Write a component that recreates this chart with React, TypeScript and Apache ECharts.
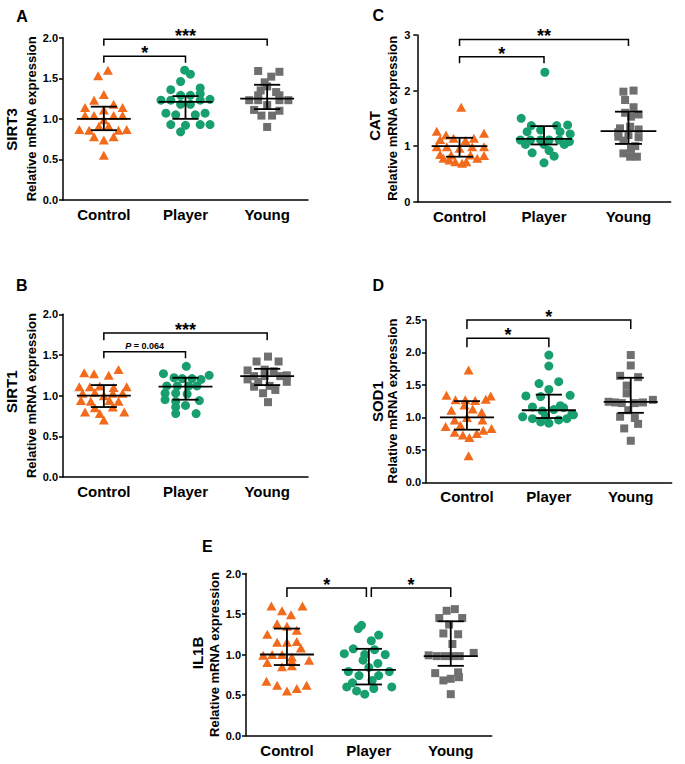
import React, { useEffect, useRef } from 'react';
import * as echarts from 'echarts';

const CATEGORIES = ['Control', 'Player', 'Young'];

// Each point: [horizontal jitter within its group, relative mRNA expression]
const SIRT3_CONTROL = [[0.05,1.60],[-0.07,1.53],[0,1.30],[-0.12,1.23],[0.12,1.18],[0.23,1.14],[-0.23,1.14],[0,1.11],[-0.23,1.04],[-0.12,1.04],[0.12,1.04],[0.23,1.04],[0,0.99],[-0.06,0.91],[0.06,0.91],[-0.30,0.87],[-0.18,0.86],[0.18,0.86],[0.28,0.87],[-0.12,0.78],[0.12,0.78],[0,0.74],[0,0.55]];
const SIRT3_PLAYER = [[-0.01,1.60],[0.06,1.55],[-0.06,1.46],[-0.18,1.36],[0.18,1.38],[-0.06,1.29],[0.06,1.29],[0.18,1.31],[-0.30,1.23],[-0.18,1.23],[0.18,1.23],[0.30,1.24],[-0.06,1.18],[0.06,1.18],[-0.24,1.07],[-0.12,1.05],[0.24,1.07],[0.12,1.05],[-0.18,0.93],[0.18,0.93],[0.30,0.93],[0.0,0.92],[-0.06,0.84]];
const SIRT3_YOUNG = [[-0.11,1.59],[0.15,1.58],[0.05,1.52],[-0.03,1.45],[0.0,1.40],[-0.11,1.29],[0.15,1.29],[-0.22,1.23],[-0.11,1.23],[0.15,1.23],[0.26,1.23],[0.0,1.17],[-0.16,1.11],[0.15,1.10],[-0.07,1.04],[0.06,1.04],[0.0,0.90],[0.11,1.33],[-0.08,1.35]];
const SIRT3_STATS = [[1.00,0.86,1.15],[1.21,1.00,1.28],[1.25,1.12,1.42]]; // median, q1, q3

const SIRT1_CONTROL = [[0.18,1.32],[-0.24,1.28],[-0.12,1.27],[0.06,1.25],[-0.30,1.11],[-0.17,1.11],[-0.05,1.12],[0.28,1.11],[0.12,1.10],[-0.26,1.03],[-0.11,1.04],[0.11,1.03],[0.23,1.03],[0,1.0],[-0.28,0.94],[-0.16,0.93],[0.07,0.94],[0.18,0.93],[-0.23,0.80],[-0.11,0.85],[0.11,0.86],[0.25,0.80],[0,0.70],[-0.05,0.78]];
const SIRT1_PLAYER = [[0.01,1.36],[-0.27,1.27],[0.29,1.25],[-0.14,1.22],[-0.04,1.21],[0.08,1.21],[0.19,1.20],[-0.23,1.12],[-0.10,1.12],[0.04,1.12],[0.14,1.12],[-0.25,1.03],[-0.12,1.03],[0.02,1.02],[-0.25,0.95],[-0.12,0.93],[0.17,0.94],[-0.12,0.86],[0.0,0.88],[-0.12,0.78],[0.13,0.78]];
const SIRT1_YOUNG = [[0.01,1.48],[-0.13,1.42],[0.14,1.42],[-0.24,1.31],[-0.03,1.32],[0.08,1.30],[0.24,1.25],[-0.16,1.24],[-0.03,1.24],[0.16,1.24],[-0.11,1.17],[0.24,1.17],[-0.16,1.11],[0.03,1.12],[0.10,1.07],[-0.05,1.03],[0.01,0.92],[-0.24,1.20]];
const SIRT1_STATS = [[1.00,0.86,1.13],[1.11,0.95,1.22],[1.24,1.13,1.33]];

const CAT_CONTROL = [[0.02,1.70],[-0.27,1.27],[-0.16,1.20],[0.29,1.23],[-0.23,1.12],[-0.07,1.14],[0.17,1.14],[0.07,1.10],[-0.27,0.99],[-0.15,0.99],[0.15,0.99],[0.29,0.99],[0,0.96],[-0.23,0.85],[-0.10,0.84],[0.13,0.84],[0.29,0.83],[-0.19,0.78],[0.21,0.78],[-0.05,0.72],[0.03,0.69],[0.08,0.72],[-0.12,0.75]];
const CAT_PLAYER = [[0.01,2.33],[-0.27,1.50],[-0.15,1.37],[0.15,1.37],[0.28,1.38],[-0.20,1.26],[-0.04,1.29],[0.19,1.26],[0.31,1.22],[-0.28,1.11],[-0.16,1.11],[-0.04,1.11],[0.06,1.11],[0.18,1.11],[0.30,1.08],[-0.22,1.03],[0.0,1.03],[0.24,1.03],[-0.14,0.88],[0.06,0.92],[0.12,0.82],[0.0,0.70]];
const CAT_YOUNG = [[-0.06,1.98],[0.06,2.00],[-0.04,1.83],[0.06,1.70],[-0.04,1.60],[0.12,1.57],[0.03,1.53],[-0.10,1.32],[0.02,1.35],[0.12,1.30],[-0.12,1.17],[0.0,1.20],[0.12,1.16],[-0.06,1.10],[0.08,1.00],[0.03,0.95],[-0.06,0.87],[0.02,0.81],[0.10,0.81],[-0.12,1.25]];
const CAT_STATS = [[1.00,0.81,1.15],[1.13,1.03,1.36],[1.27,1.04,1.62]];

const SOD1_CONTROL = [[0.02,1.73],[-0.25,1.34],[0.29,1.33],[-0.14,1.27],[-0.02,1.27],[0.10,1.26],[0.23,1.28],[-0.03,1.19],[0.07,1.13],[-0.19,1.11],[0.18,1.08],[-0.15,0.96],[0.19,0.96],[0.0,1.0],[-0.26,0.86],[-0.08,0.88],[0.30,0.83],[0.20,0.80],[-0.15,0.77],[-0.05,0.73],[0.03,0.69],[0.12,0.75],[0.02,0.41]];
const SOD1_PLAYER = [[0,1.96],[0,1.79],[-0.12,1.52],[0.12,1.55],[0,1.43],[-0.28,1.33],[-0.10,1.32],[0.26,1.34],[-0.20,1.16],[0.14,1.18],[-0.08,1.10],[0.06,1.12],[0.28,1.05],[-0.32,1.01],[-0.20,0.98],[-0.10,0.93],[0,0.91],[0.12,0.96],[0.22,0.98],[0.30,1.04],[-0.04,1.02],[0.18,1.15]];
const SOD1_YOUNG = [[0,1.96],[0,1.80],[-0.13,1.64],[0.09,1.62],[-0.05,1.49],[-0.05,1.37],[-0.27,1.24],[-0.19,1.23],[-0.11,1.22],[0.05,1.22],[0.15,1.23],[0.27,1.27],[-0.03,1.11],[-0.13,1.01],[0.05,0.99],[0.09,0.90],[-0.08,0.83],[0,0.64]];
const SOD1_STATS = [[1.00,0.81,1.25],[1.11,0.99,1.35],[1.24,1.07,1.61]];

const IL1B_CONTROL = [[-0.19,1.60],[0.19,1.60],[-0.06,1.54],[0.05,1.49],[-0.12,1.38],[0.0,1.35],[0.12,1.30],[-0.24,1.25],[-0.12,1.15],[0.0,1.15],[0.12,1.16],[0.17,1.08],[-0.29,0.99],[-0.18,1.00],[-0.06,1.00],[0.06,0.97],[-0.24,0.90],[0.06,0.92],[0.27,0.93],[-0.06,0.85],[0.06,0.86],[-0.25,0.67],[-0.12,0.62],[0,0.55],[0.12,0.58],[0.24,0.62]];
const IL1B_PLAYER = [[-0.09,1.36],[-0.13,1.32],[0.12,1.24],[0.03,1.17],[-0.19,1.07],[0.07,1.06],[-0.30,1.01],[-0.05,1.0],[0.20,1.0],[-0.07,0.93],[0.11,0.89],[-0.25,0.79],[0.0,0.84],[0.25,0.79],[-0.12,0.74],[0.12,0.74],[-0.20,0.65],[0.04,0.68],[-0.27,0.60],[-0.15,0.55],[-0.05,0.51],[0.06,0.58],[0.28,0.60]];
const IL1B_YOUNG = [[0.05,1.56],[-0.05,1.54],[-0.14,1.45],[0.14,1.45],[-0.02,1.37],[-0.09,1.26],[0.09,1.25],[0.02,1.13],[-0.27,0.99],[-0.17,0.98],[-0.07,0.98],[0.02,0.98],[0.11,0.98],[0.28,1.02],[-0.19,0.77],[0.09,0.78],[-0.09,0.68],[0.0,0.70],[0.10,0.72],[0.0,0.51]];
const IL1B_STATS = [[1.00,0.87,1.32],[0.81,0.63,1.07],[0.98,0.86,1.41]];

// significance brackets: from group, to group, bracket height, drop, label
const SIRT3_BRACKETS = [{ from: 0, to: 1, y: 1.77, drop: 0.08, label: '*' }, { from: 0, to: 2, y: 1.98, drop: 0.08, label: '***' }];
const SIRT1_BRACKETS = [{ from: 0, to: 1, y: 1.54, drop: 0.08, label: 'P = 0.064' }, { from: 0, to: 2, y: 1.77, drop: 0.09, label: '***' }];
const CAT_BRACKETS = [{ from: 0, to: 1, y: 2.61, drop: 0.12, label: '*' }, { from: 0, to: 2, y: 2.92, drop: 0.12, label: '**' }];
const SOD1_BRACKETS = [{ from: 0, to: 1, y: 2.22, drop: 0.14, label: '*' }, { from: 0, to: 2, y: 2.50, drop: 0.14, label: '*' }];
const IL1B_BRACKETS = [{ from: 0, to: 0.97, y: 1.82, drop: 0.11, label: '*' }, { from: 1.03, to: 2, y: 1.82, drop: 0.11, label: '*' }];

const COLORS = ['#F26A1B', '#17A06E', '#6F6F6F'];
const SYMBOLS = ['triangle', 'circle', 'rect'];
const SYMBOL_SIZES: any[] = [[10, 9], 9, 8];
const FONT = 'Liberation Sans, Arial, Helvetica, sans-serif';

const PANELS = [
  { letter: 'A', gene: 'SIRT3', groups: [SIRT3_CONTROL, SIRT3_PLAYER, SIRT3_YOUNG], stats: SIRT3_STATS, brackets: SIRT3_BRACKETS,
    grid: { left: 63, top: 37.7, width: 245, height: 162.3 }, yMax: 2, interval: 0.5, dec: 1, labelMargin: 5,
    letterPos: [22, 16], genePos: [11.7, 129.5], relPos: [31.5, 118.8] },
  { letter: 'B', gene: 'SIRT1', groups: [SIRT1_CONTROL, SIRT1_PLAYER, SIRT1_YOUNG], stats: SIRT1_STATS, brackets: SIRT1_BRACKETS,
    grid: { left: 63, top: 314.3, width: 245, height: 162.7 }, yMax: 2, interval: 0.5, dec: 1, labelMargin: 5,
    letterPos: [21.7, 285], genePos: [11.7, 391.7], relPos: [31.5, 395.6] },
  { letter: 'C', gene: 'CAT', groups: [CAT_CONTROL, CAT_PLAYER, CAT_YOUNG], stats: CAT_STATS, brackets: CAT_BRACKETS,
    grid: { left: 417.3, top: 35, width: 253.4, height: 166.7 }, yMax: 3, interval: 1, dec: 0, labelMargin: 7,
    letterPos: [378.3, 15], genePos: [374, 126], relPos: [392, 118.3] },
  { letter: 'D', gene: 'SOD1', groups: [SOD1_CONTROL, SOD1_PLAYER, SOD1_YOUNG], stats: SOD1_STATS, brackets: SOD1_BRACKETS,
    grid: { left: 426, top: 320, width: 245.7, height: 162.3 }, yMax: 2.5, interval: 0.5, dec: 1, labelMargin: 5,
    letterPos: [378.3, 285], genePos: [377.5, 401.7], relPos: [392.5, 401] },
  { letter: 'E', gene: 'IL1B', groups: [IL1B_CONTROL, IL1B_PLAYER, IL1B_YOUNG], stats: IL1B_STATS, brackets: IL1B_BRACKETS,
    grid: { left: 246, top: 573.5, width: 245.7, height: 162 }, yMax: 2, interval: 0.5, dec: 1, labelMargin: 5,
    letterPos: [207.3, 546.7], genePos: [197.5, 653], relPos: [214, 654.5] },
];

function textStyle(text: string, size: number, extra: any = {}) {
  return {
    text, fill: '#000', fontSize: size, fontWeight: 'bold', fontFamily: FONT,
    align: 'center', verticalAlign: 'middle', textAlign: 'center', textVerticalAlign: 'middle', ...extra,
  };
}

function buildOption() {
  const grid: any[] = [];
  const xAxis: any[] = [];
  const yAxis: any[] = [];
  const series: any[] = [];
  const graphic: any[] = [];

  PANELS.forEach((p, g) => {
    grid.push({ ...p.grid, outerBoundsMode: 'none', containLabel: false });
    xAxis.push({
      gridIndex: g, type: 'category', data: CATEGORIES,
      axisLine: { lineStyle: { color: '#000', width: 1.5 } },
      axisTick: { alignWithLabel: true, length: 5, lineStyle: { color: '#000', width: 1.5 } },
      axisLabel: { color: '#000', fontSize: 15, fontWeight: 'bold', fontFamily: FONT, margin: 7, interval: 0 },
    });
    xAxis.push({ gridIndex: g, type: 'value', min: 0, max: 3, show: false });
    yAxis.push({
      gridIndex: g, type: 'value', min: 0, max: p.yMax, interval: p.interval,
      axisLine: { show: true, lineStyle: { color: '#000', width: 1.5 } },
      axisTick: { show: true, length: 4, lineStyle: { color: '#000', width: 1.5 } },
      splitLine: { show: false },
      axisLabel: { color: '#000', fontSize: 11, fontWeight: 'bold', fontFamily: FONT, margin: p.labelMargin,
        formatter: (v: number) => v.toFixed(p.dec) },
    });

    p.groups.forEach((pts, i) => {
      series.push({
        type: 'scatter', xAxisIndex: 2 * g + 1, yAxisIndex: g, z: 2,
        symbol: SYMBOLS[i], symbolSize: SYMBOL_SIZES[i],
        itemStyle: { color: COLORS[i], opacity: 1 },
        data: pts.map(([dx, v]) => [i + 0.5 + dx, v]),
        silent: true,
      });
    });

    series.push({
      type: 'custom', xAxisIndex: 2 * g + 1, yAxisIndex: g, z: 5, silent: true,
      data: p.stats.map((s, i) => [i + 0.5, s[0], s[1], s[2]]),
      renderItem: (params: any, api: any) => {
        const x = api.value(0), m = api.value(1), q1 = api.value(2), q3 = api.value(3);
        const a = api.coord([x - 0.33, m]), b = api.coord([x + 0.33, m]);
        const c1 = api.coord([x - 0.16, q1]), c2 = api.coord([x + 0.16, q1]);
        const d1 = api.coord([x - 0.16, q3]), d2 = api.coord([x + 0.16, q3]);
        const v1 = api.coord([x, q1]), v2 = api.coord([x, q3]);
        const st = { stroke: '#000', lineWidth: 1.8 };
        const ln = (p1: number[], p2: number[]) => ({ type: 'line', shape: { x1: p1[0], y1: p1[1], x2: p2[0], y2: p2[1] }, style: st });
        return { type: 'group', children: [ln(a, b), ln(c1, c2), ln(d1, d2), ln(v1, v2)] };
      },
    });

    series.push({
      type: 'custom', xAxisIndex: 2 * g + 1, yAxisIndex: g, z: 5, silent: true, clip: false,
      data: p.brackets.map((b) => [b.from + 0.5, b.to + 0.5, b.y, b.drop]),
      renderItem: (params: any, api: any) => {
        const x1 = api.value(0), x2 = api.value(1), y = api.value(2), drop = api.value(3);
        const label = p.brackets[params.dataIndex].label;
        const pts = [api.coord([x1, y - drop]), api.coord([x1, y]), api.coord([x2, y]), api.coord([x2, y - drop])];
        const mid = api.coord([(x1 + x2) / 2, y]);
        const isP = label.indexOf('P') === 0;
        const txt = isP
          ? { type: 'text', x: mid[0], y: mid[1] - 6,
              style: textStyle('{i|P} = 0.064', 9, { rich: { i: { fontStyle: 'italic', fontWeight: 'bold', fontSize: 9, fontFamily: FONT, fill: '#000' } } }) }
          : { type: 'text', x: mid[0], y: mid[1] - 3, style: textStyle(label, 18) };
        return {
          type: 'group',
          children: [
            { type: 'polyline', shape: { points: pts }, style: { stroke: '#000', lineWidth: 1.5, fill: null } },
            txt,
          ],
        };
      },
    });

    graphic.push({ type: 'text', x: p.letterPos[0], y: p.letterPos[1], style: textStyle(p.letter, 16) });
    graphic.push({ type: 'text', x: p.genePos[0], y: p.genePos[1], rotation: Math.PI / 2, style: textStyle(p.gene, 15) });
    graphic.push({ type: 'text', x: p.relPos[0], y: p.relPos[1], rotation: Math.PI / 2, style: textStyle('Relative mRNA expression', 13) });
  });

  return { animation: false, backgroundColor: '#fff', grid, xAxis, yAxis, series, graphic };
}

export default function App() {
  const ref = useRef<HTMLDivElement>(null);
  useEffect(() => {
    if (!ref.current) return;
    const chart = echarts.init(ref.current, null, { renderer: 'svg' });
    chart.setOption(buildOption() as any);
    return () => chart.dispose();
  }, []);
  return <div ref={ref} style={{ position: 'fixed', left: 0, top: 0, width: 685, height: 764, background: '#fff' }} />;
}
